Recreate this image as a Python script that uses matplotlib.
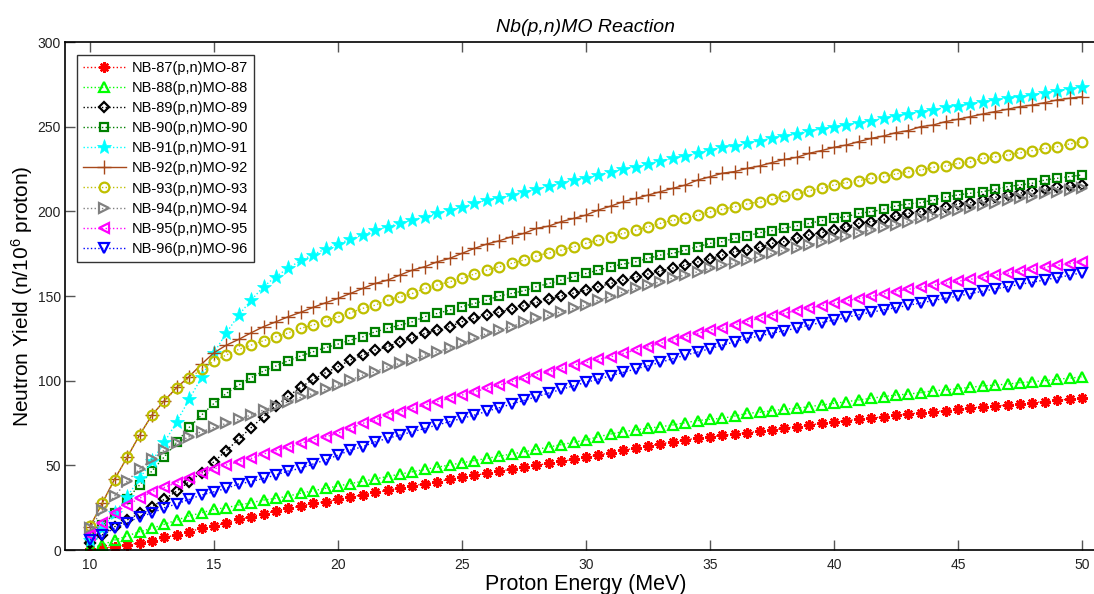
import numpy as np
import matplotlib
matplotlib.use("Agg")
import matplotlib.pyplot as plt

plt.rcParams['font.family'] = ['Liberation Sans', 'DejaVu Sans']
plt.rcParams['mathtext.fontset'] = 'custom'
plt.rcParams['mathtext.rm'] = 'Liberation Sans'
plt.rcParams['mathtext.it'] = 'Liberation Sans:italic'

energy = np.arange(10.0, 50.01, 0.5)

nb87 = [0.4, 1.0, 2.0, 3.0, 4.3, 5.5, 7.5, 8.9, 10.8, 12.8, 14.2, 16.1, 18.1, 19.7, 21.3, 23.2, 24.6, 26.0, 27.6, 28.5, 29.9,
        31.3, 32.6, 34.0, 35.3, 36.6, 37.9, 39.2, 40.4, 41.7, 42.9, 44.1, 45.3, 46.5, 47.7, 48.9, 50.0, 51.2,
        52.3, 53.5, 54.7, 56.1, 57.5, 59.1, 60.0, 61.6, 62.6, 64.0, 65.0, 66.1, 66.9, 67.7, 68.5, 69.3, 70.1, 70.9,
        71.9, 72.8, 73.8, 74.8, 75.6, 76.4, 77.2, 77.8, 78.7, 79.7, 80.3, 81.1, 81.7, 82.3, 83.1, 83.7, 84.7, 85.0,
        85.6, 86.2, 87.0, 87.6, 88.6, 89.0, 89.6]
nb88 = [1.0, 3.0, 5.9, 8.3, 10.8, 12.8, 15.2, 17.7, 20.1, 22.0, 24.0, 25.0, 26.6, 27.9, 29.5, 30.5, 31.9, 33.5, 35.0, 36.4, 37.8,
        39.2, 40.6, 42.0, 43.4, 44.8, 46.2, 47.6, 48.9, 50.2, 51.5, 52.8, 54.1, 55.4, 56.7, 58.0, 59.4, 60.8,
        62.2, 63.6, 65.0, 66.9, 68.5, 69.9, 70.9, 71.9, 72.8, 73.8, 75.2, 76.4, 77.2, 77.8, 79.1, 80.7, 81.3, 82.3,
        83.1, 83.7, 84.7, 85.6, 86.6, 87.6, 88.6, 89.6, 90.6, 91.5, 92.1, 92.9, 94.1, 94.5, 95.3, 96.1, 96.9, 97.4,
        98.0, 98.8, 99.4, 100.0, 100.8, 101.5, 102.2]
nb89 = [3.9, 8.9, 13.8, 17.7, 21.7, 25.6, 29.9, 34.8, 40.4, 45.7, 52.2, 58.7, 65.6, 72.3, 78.8, 85.0, 90.9, 96.1, 100.8, 104.7, 108.2,
        112.2, 115.1, 118.1, 120.0, 123.0, 125.0, 127.9, 129.9, 131.9, 134.8, 136.8, 138.7, 140.5, 142.3, 144.3,
        146.2, 148.0, 150.0, 151.7, 153.5, 155.5, 157.4, 159.4, 161.2, 163.0, 164.7, 166.5, 168.3, 170.1, 172.0,
        174.2, 176.2, 177.2, 178.8, 181.1, 182.1, 184.1, 186.1, 187.4, 189.0, 191.0, 192.9, 193.9, 195.3, 197.3,
        198.8, 199.8, 201.2, 202.8, 204.4, 205.1, 206.7, 208.3, 209.7, 210.7, 212.2, 213.0, 214.2, 215.0, 215.6]
nb90 = [8.0, 14.5, 21.7, 30.0, 38.4, 46.7, 55.1, 63.6, 72.4, 79.7, 86.6, 92.5, 97.4, 101.8, 105.7, 108.7, 111.8, 114.6, 117.1, 119.5, 121.6,
        124.0, 125.9, 128.9, 130.9, 132.8, 134.8, 137.8, 139.7, 141.7, 143.7, 145.6, 147.6, 150.0, 151.5, 153.1,
        155.5, 157.4, 159.4, 161.4, 163.3, 165.3, 167.3, 168.9, 170.2, 172.2, 174.2, 175.2, 177.1, 179.1, 181.1,
        182.1, 184.1, 185.5, 187.4, 188.6, 190.0, 191.4, 192.9, 194.5, 195.9, 196.9, 198.8, 199.8, 201.2, 203.2,
        204.4, 205.1, 206.7, 208.3, 209.7, 210.7, 211.6, 213.0, 214.6, 215.6, 216.6, 218.5, 219.5, 220.5, 221.5]
nb91 = [6.0, 13.0, 22.0, 31.5, 42.3, 52.5, 63.6, 75.8, 89.0, 102.0, 116.5, 128.3, 138.8, 147.6, 155.5, 161.5, 166.5, 171.0, 174.5, 177.8, 180.7,
        183.6, 186.0, 188.9, 190.9, 192.9, 194.8, 196.8, 198.8, 200.8, 202.3, 204.7, 206.7, 207.6, 209.6, 211.6,
        213.0, 214.9, 216.9, 218.5, 219.5, 221.4, 223.4, 224.8, 226.3, 227.9, 229.9, 231.3, 232.6, 234.6, 236.2,
        237.8, 238.6, 240.2, 241.8, 243.1, 244.5, 245.7, 247.7, 248.5, 250.0, 251.0, 252.4, 253.6, 255.0, 256.3,
        257.5, 258.9, 259.9, 261.4, 262.2, 263.4, 264.8, 265.8, 266.8, 267.7, 268.7, 270.1, 271.3, 272.1, 273.3]
nb92 = [13.8, 27.9, 42.1, 54.7, 67.9, 79.7, 88.2, 96.0, 102.4, 109.8, 116.5, 121.0, 124.4, 128.3, 131.9, 134.8, 137.8, 140.4, 143.3, 146.0, 148.6,
        151.5, 154.5, 157.4, 159.4, 162.4, 165.3, 167.3, 170.2, 172.2, 175.2, 178.1, 180.7, 182.6, 185.0, 187.0,
        189.9, 191.3, 193.9, 195.8, 197.8, 200.8, 203.1, 205.7, 207.6, 209.6, 211.6, 213.6, 215.5, 218.5, 220.4,
        222.5, 223.5, 225.4, 226.8, 228.8, 230.7, 231.9, 234.3, 235.9, 237.8, 239.2, 241.2, 243.1, 244.5, 246.5,
        247.7, 250.0, 251.0, 253.0, 254.4, 255.9, 257.5, 258.9, 260.3, 261.8, 262.8, 264.2, 265.8, 266.8, 267.7]
nb93 = [14.0, 27.5, 41.5, 55.0, 68.0, 79.5, 88.0, 95.5, 101.5, 106.7, 111.6, 115.2, 118.5, 121.0, 123.6, 126.0, 128.3, 130.9, 132.9, 135.4, 137.8,
        140.1, 142.7, 144.6, 147.6, 149.6, 151.5, 154.5, 156.5, 158.4, 160.4, 163.0, 165.3, 167.3, 169.3, 171.2,
        173.6, 175.6, 177.1, 179.1, 181.1, 183.0, 185.0, 187.0, 188.9, 190.9, 192.9, 194.8, 195.8, 197.8, 199.8,
        201.2, 202.8, 204.4, 205.7, 207.1, 209.1, 210.3, 212.2, 213.6, 215.6, 217.0, 218.1, 219.5, 220.5, 222.1,
        223.5, 224.4, 226.0, 226.8, 228.4, 229.4, 231.3, 232.3, 233.3, 234.7, 235.9, 237.2, 238.2, 239.8, 241.2]
nb94 = [12.8, 23.6, 31.9, 40.7, 47.8, 53.5, 59.0, 63.4, 66.9, 69.9, 72.4, 74.8, 77.2, 79.7, 82.7, 85.0, 87.6, 90.2, 92.5, 94.9, 97.4,
        100.4, 103.3, 105.3, 108.2, 110.2, 112.2, 115.1, 117.1, 119.1, 122.0, 125.0, 127.9, 129.9, 131.9, 134.8,
        136.8, 138.7, 140.7, 142.7, 144.6, 147.6, 149.6, 152.5, 154.5, 156.5, 158.4, 160.6, 162.4, 164.3, 166.3,
        168.3, 169.3, 171.3, 173.3, 175.2, 177.2, 178.2, 180.1, 182.1, 184.1, 185.5, 187.4, 189.0, 191.0, 192.0,
        193.9, 195.9, 197.3, 198.8, 200.8, 201.8, 203.8, 204.8, 206.7, 207.7, 208.7, 210.7, 211.6, 212.6, 213.6]
nb95 = [8.9, 15.7, 21.7, 26.6, 30.5, 34.4, 37.0, 39.8, 42.3, 45.3, 47.8, 50.2, 52.2, 54.1, 56.7, 58.7, 60.6, 63.0, 65.0, 66.9, 68.9,
        71.8, 74.8, 76.7, 79.7, 81.7, 83.6, 85.6, 87.6, 89.5, 91.5, 93.5, 95.4, 97.4, 99.4, 101.3, 103.3, 105.3,
        107.2, 109.2, 110.6, 112.6, 114.1, 116.1, 118.1, 120.0, 122.0, 124.0, 125.9, 127.9, 129.9,
        130.9, 132.9, 134.9, 136.8, 138.4, 139.8, 141.4, 142.9, 144.3, 145.7, 147.1, 148.5, 149.8, 151.2, 152.6,
        154.0, 155.1, 156.3, 157.5, 158.7, 159.9, 161.0, 162.2, 163.4, 164.6, 165.8, 167.0, 168.1, 169.1, 170.3]
nb96 = [5.9, 8.9, 12.8, 16.1, 19.7, 21.7, 25.0, 27.2, 29.9, 32.5, 34.4, 36.4, 39.0, 40.4, 42.3, 44.3, 46.7, 48.2, 50.8, 53.2, 56.0,
        59.0, 61.0, 63.9, 65.9, 67.9, 69.8, 71.8, 73.8, 75.8, 77.7, 79.7, 81.9, 84.0, 86.2, 88.3, 90.5, 92.7,
        94.8, 97.0, 99.0, 100.9, 102.9, 104.9, 106.9, 108.8, 110.8, 113.0, 115.0, 116.9, 118.9,
        121.0, 122.9, 125.0, 126.4, 128.0, 129.6, 130.9, 132.9, 134.3, 135.8, 137.4, 139.0, 140.4, 141.8, 143.1,
        144.5, 145.9, 147.3, 148.7, 150.0, 151.4, 152.8, 154.2, 155.5, 156.9, 158.1, 159.5, 160.9, 162.2, 163.8]

labels = ['NB-87(p,n)MO-87', 'NB-88(p,n)MO-88', 'NB-89(p,n)MO-89', 'NB-90(p,n)MO-90',
          'NB-91(p,n)MO-91', 'NB-92(p,n)MO-92', 'NB-93(p,n)MO-93', 'NB-94(p,n)MO-94',
          'NB-95(p,n)MO-95', 'NB-96(p,n)MO-96']
series = [nb87, nb88, nb89, nb90, nb91, nb92, nb93, nb94, nb95, nb96]

styles = [
    dict(color='#ff0000', marker=(8, 2, 0), ls=':', ms=7.5, mew=1.7, mfc='#ff0000'),
    dict(color='#00ff00', marker='^', ls=':', ms=7, mew=1.6, mfc='none'),
    dict(color='#000000', marker='D', ls=':', ms=5.2, mew=1.6, mfc='none'),
    dict(color='#008000', marker='s', ls=':', ms=6.3, mew=1.6, mfc='none'),
    dict(color='#00ffff', marker='*', ls=':', ms=11, mew=0.5, mfc='#00ffff'),
    dict(color='#a8481a', marker='+', ls='-', ms=10, mew=1.0, mfc='none'),
    dict(color='#bfbf00', marker='o', ls=':', ms=7, mew=1.6, mfc='none'),
    dict(color='#808080', marker='>', ls=':', ms=7, mew=1.6, mfc='none'),
    dict(color='#ff00ff', marker='<', ls=':', ms=7, mew=1.6, mfc='none'),
    dict(color='#0000ff', marker='v', ls=':', ms=7, mew=1.6, mfc='none'),
]

fig = plt.figure(figsize=(10.94, 5.94), dpi=100)
ax = fig.add_axes([65.2 / 1094, 44 / 594, 1041.6 / 1094, 508 / 594])

for y, lab, st in zip(series, labels, styles):
    ax.plot(energy, y, label=lab, lw=1.0, color=st['color'], ls=st['ls'],
            marker=st['marker'], markersize=st['ms'], markeredgewidth=st['mew'],
            markerfacecolor=st['mfc'], markeredgecolor=st['color'])

ax.set_xlim(9, 51)
ax.set_ylim(0, 300)
ax.set_xticks(np.arange(10, 51, 5))
ax.set_yticks(np.arange(0, 301, 50))
ax.tick_params(direction='in', length=7, width=1, top=True, right=True,
               labelsize=10, color='#555555', labelcolor='#222222')
ax.tick_params(axis='x', pad=6)
ax.tick_params(axis='y', pad=3)
for sp in ax.spines.values():
    sp.set_linewidth(1.2)

ax.set_xlabel('Proton Energy (MeV)', fontsize=15.5, labelpad=1)
ax.set_ylabel('Neutron Yield (n/10$^{6}$ proton)', fontsize=15, va='center')
ax.yaxis.set_label_coords((22 - 65.2) / 1041.6, 0.5)
ax.set_title('Nb(p,n)MO Reaction', fontsize=14, style='italic', pad=7)

leg = ax.legend(loc='upper left', bbox_to_anchor=(12.2 / 1041.6, 1 - 13 / 508),
                fontsize=10.5, frameon=True, fancybox=False, edgecolor='black',
                handlelength=2.9, labelspacing=0.42, borderpad=0.4,
                handletextpad=0.4, borderaxespad=0)
leg.get_frame().set_linewidth(1.0)

fig.savefig('out.png', dpi=100)
